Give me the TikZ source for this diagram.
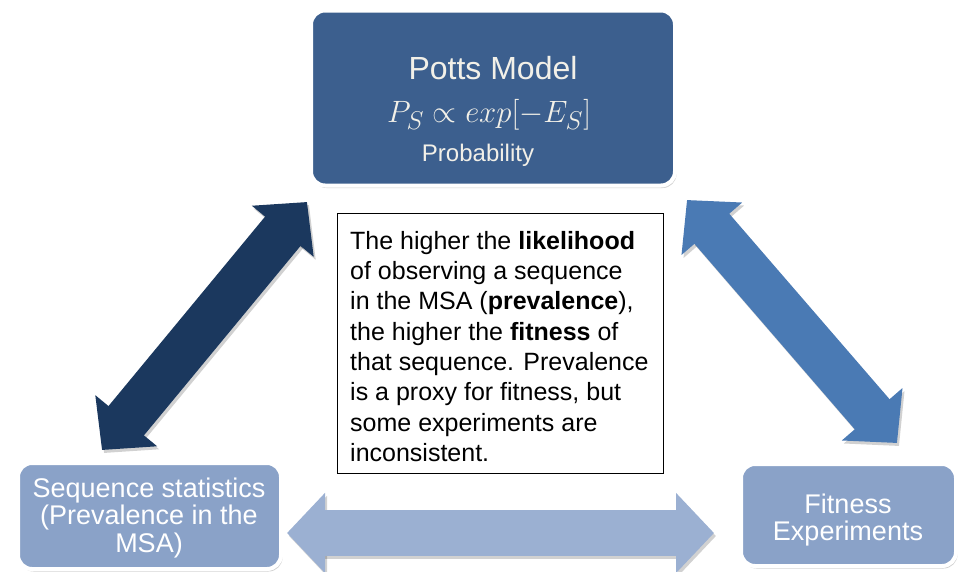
\documentclass[tikz,border=0pt]{standalone}
\usepackage{graphicx}
\usepackage{fontspec}
\setmainfont{Liberation Sans}
\usetikzlibrary{arrows.meta,shadows}
\definecolor{topblue}{HTML}{3C5F8E}
\definecolor{navy}{HTML}{1B385E}
\definecolor{midblue}{HTML}{4A7AB4}
\definecolor{paleblue}{HTML}{9BB0D2}
\definecolor{boxblue}{HTML}{8AA2C8}
\definecolor{offwhite}{HTML}{F2F0E8}
\begin{document}
\begin{tikzpicture}[x=1pt,y=-1pt,
  box/.style={draw=white, line width=4pt, rounded corners=14pt, inner sep=0pt,
    drop shadow={shadow xshift=1.5pt, shadow yshift=-2.5pt, opacity=0.3, fill=black!60}},
  fatarrow/.style={line width=46pt,
    {Triangle[width=78pt,length=38pt]}-{Triangle[width=78pt,length=38pt]}},
  shadowarrow/.style={fatarrow, draw=black, opacity=0.18},
  boxtext/.style={text=white, align=center, inner sep=0pt,
    font=\fontsize{27}{27.5}\selectfont},
]
\useasboundingbox (0,0) rectangle (961,571);
% boxes
\node[box, fill=topblue, minimum width=364pt, minimum height=175pt] (potts) at (493,98) {};
\node[text=offwhite, inner sep=0pt, font=\fontsize{32}{32}\selectfont] (pottsT) at (493,68) {Potts Model};
\node[text=offwhite, inner sep=0pt, font=\fontsize{24.88}{24.88}\selectfont] (pottsF) at (489,115) {\scalebox{1.24}{$P_S \propto exp[-E_S]$}};
\node[text=offwhite, inner sep=0pt, font=\fontsize{24}{24}\selectfont] (pottsP) at (478,155) {Probability};

\node[box, fill=boxblue, minimum width=263pt, minimum height=106pt] (seq) at (149.5,516) {};
\node[boxtext] (seqT) at (149,518) {Sequence statistics\\(Prevalence in the\\MSA)};

\node[box, fill=boxblue, minimum width=215pt, minimum height=102pt] (fit) at (848.5,515) {};
\node[boxtext] (fitT) at (848,520) {Fitness\\Experiments};

% text box
\node[draw=black, line width=0.9pt, minimum width=326pt, minimum height=260pt,
  anchor=north west, inner sep=0pt] (note) at (337,213) {};
\node[anchor=north west, inner sep=0pt, align=left,
  font=\fontsize{25}{30.3}\selectfont] (noteT) at (350,231)
  {The higher the \textbf{likelihood}\\
   of observing a sequence\\
   in the MSA (\textbf{prevalence}),\\
   the higher the \textbf{fitness} of\\
   that sequence. Prevalence\\
   is a proxy for fitness, but\\
   some experiments are\\
   inconsistent.};

% arrow end points
\coordinate (la1) at (102,450);
\coordinate (la2) at (307,202);
\coordinate (ra1) at (687,200);
\coordinate (ra2) at (897,443);
\coordinate (ba1) at (287,533);
\coordinate (ba2) at (714,533);
\coordinate (la1s) at (104,453);
\coordinate (la2s) at (309,205);
\coordinate (ra1s) at (689,203);
\coordinate (ra2s) at (899,446);
\coordinate (ba1s) at (289,536);
\coordinate (ba2s) at (716,536);

\draw[shadowarrow] (la1s) -- (la2s);
\draw[shadowarrow] (ra1s) -- (ra2s);
\draw[shadowarrow] (ba1s) -- (ba2s);
\draw[fatarrow, draw=navy, fill=navy] (la1) -- (la2);
\draw[fatarrow, draw=midblue, fill=midblue] (ra1) -- (ra2);
\draw[fatarrow, draw=paleblue, fill=paleblue] (ba1) -- (ba2);
\end{tikzpicture}
\end{document}
